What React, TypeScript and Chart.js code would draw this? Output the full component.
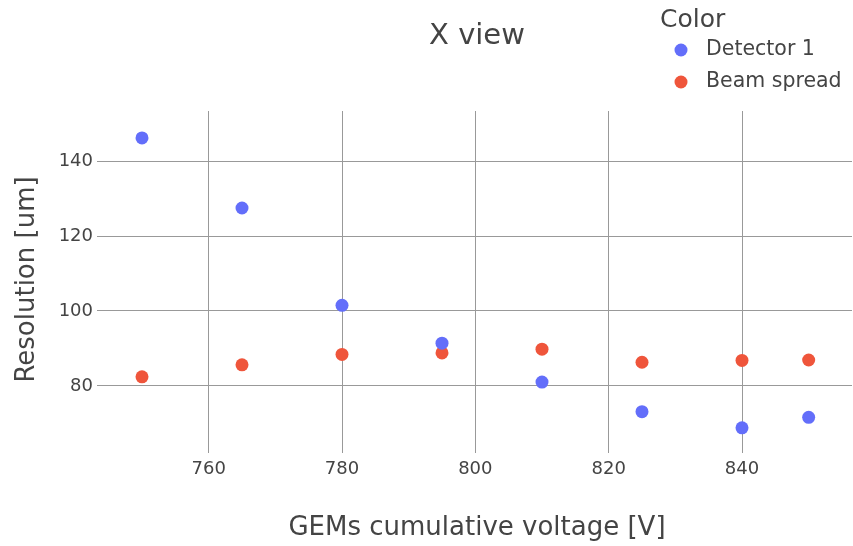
import React, { useEffect, useRef } from "react";
import { Chart, registerables } from "chart.js";

Chart.register(...registerables);

const voltages = [750, 765, 780, 795, 810, 825, 840, 850];
const detector1 = [146.2, 127.5, 101.5, 91.4, 81.0, 73.1, 68.8, 71.6];
const beamSpread = [82.4, 85.6, 88.4, 88.8, 89.8, 86.3, 86.8, 86.9];
const seriesNames = ["Detector 1", "Beam spread"];
const seriesColors = ["#636efa", "#EF553B"];
const xTicks = [760, 780, 800, 820, 840];
const yTicks = [80, 100, 120, 140];
const titleText = "X view";
const legendTitle = "Color";
const xTitle = "GEMs cumulative voltage [V]";
const yTitle = "Resolution [um]";

const FONT = "'DejaVu Sans', Verdana, sans-serif";
const TEXT = "#444";

const overlayPlugin = {
  id: "overlay",
  afterDraw(chart: any) {
    const ctx = chart.ctx;
    const area = chart.chartArea;
    ctx.save();
    ctx.fillStyle = TEXT;
    ctx.textBaseline = "middle";
    ctx.font = `29px ${FONT}`;
    ctx.textAlign = "center";
    ctx.fillText(titleText, (area.left + area.right) / 2, 36);
    ctx.textAlign = "left";
    ctx.font = `25px ${FONT}`;
    ctx.fillText(legendTitle, 660, 20);
    ctx.font = `20.5px ${FONT}`;
    chart.data.datasets.forEach((ds: any, i: number) => {
      const y = 50 + i * 32;
      ctx.beginPath();
      ctx.fillStyle = ds.backgroundColor;
      ctx.arc(681, y, 6.5, 0, Math.PI * 2);
      ctx.fill();
      ctx.fillStyle = TEXT;
      ctx.fillText(ds.label, 706, y);
    });
    ctx.restore();
  },
};

export default function App() {
  const ref = useRef<HTMLCanvasElement | null>(null);
  useEffect(() => {
    if (!ref.current) return;
    const chart = new Chart(ref.current, {
      type: "scatter",
      data: {
        datasets: [detector1, beamSpread].map((vals, i) => ({
          label: seriesNames[i],
          data: voltages.map((x, j) => ({ x, y: vals[j] })),
          backgroundColor: seriesColors[i],
          borderColor: seriesColors[i],
          pointRadius: 6.5,
          pointBorderWidth: 0,
        })),
      },
      options: {
        animation: false,
        responsive: false,
        layout: { autoPadding: false, padding: { left: 0, top: 111, right: 1, bottom: 0 } },
        plugins: {
          legend: { display: false },
          title: { display: false },
          tooltip: { enabled: false },
        },
        scales: {
          x: {
            type: "linear",
            min: 744,
            max: 856.5,
            afterBuildTicks: (s: any) => {
              s.ticks = xTicks.map((v) => ({ value: v }));
            },
            afterFit: (s: any) => {
              s.height = 98;
              s.paddingLeft = 0;
              s.paddingRight = 0;
            },
            border: { display: false },
            grid: { color: "#999", tickLength: 5, drawTicks: true },
            ticks: { color: TEXT, font: { family: FONT, size: 18 }, padding: 6 },
            title: {
              display: true,
              text: xTitle,
              color: TEXT,
              font: { family: FONT, size: 26 },
              padding: { top: 30, bottom: 2 },
            },
          },
          y: {
            type: "linear",
            min: 63.4,
            max: 153.4,
            afterBuildTicks: (s: any) => {
              s.ticks = yTicks.map((v) => ({ value: v }));
            },
            afterFit: (s: any) => {
              s.width = 102;
              s.paddingTop = 0;
              s.paddingBottom = 0;
            },
            border: { display: false },
            grid: { color: "#999", tickLength: 5, drawTicks: true },
            ticks: { color: TEXT, font: { family: FONT, size: 18 }, padding: 4 },
            title: {
              display: true,
              text: yTitle,
              color: TEXT,
              font: { family: FONT, size: 26 },
              padding: { top: 12, bottom: 10 },
            },
          },
        },
      },
      plugins: [overlayPlugin],
    });
    return () => chart.destroy();
  }, []);
  return (
    <div style={{ position: "fixed", left: 0, top: 0, width: 853, height: 546, background: "#fff" }}>
      <canvas ref={ref} width={853} height={546} style={{ display: "block" }} />
    </div>
  );
}
